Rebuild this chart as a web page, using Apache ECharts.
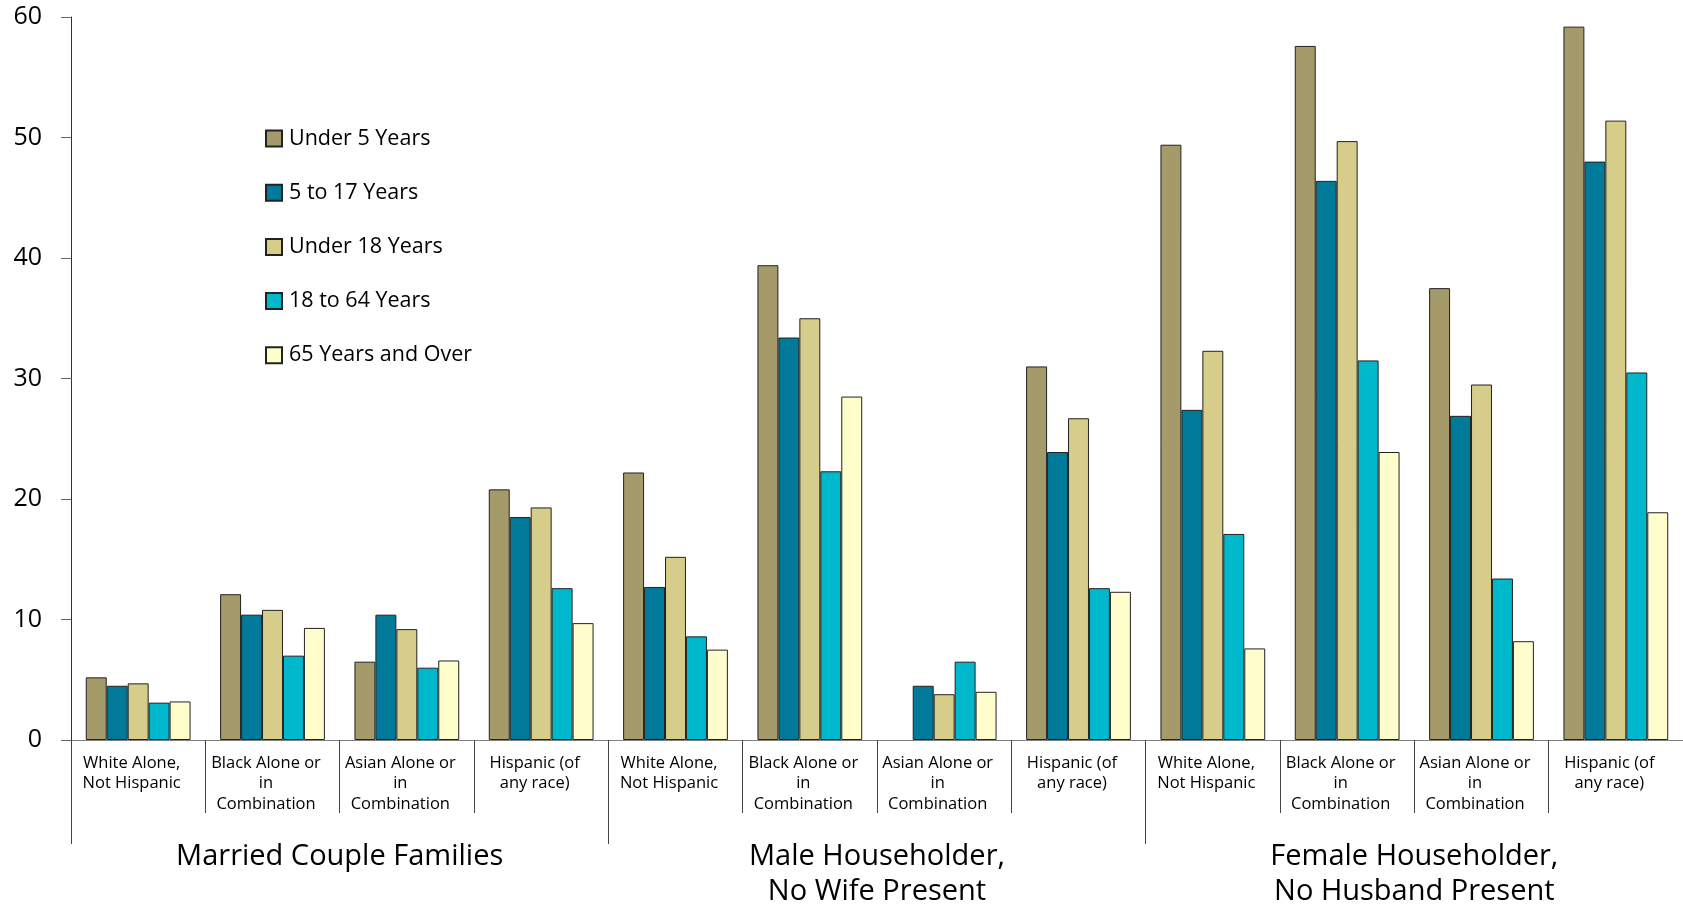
<!DOCTYPE html>
<html>
<head>
<meta charset="utf-8">
<script src="https://cdn.jsdelivr.net/npm/echarts@6/dist/echarts.min.js"></script>
<style>
html,body{margin:0;padding:0;background:#fff;}
#chart{width:1683px;height:909px;}
</style>
</head>
<body>
<div id="chart"></div>
<script>
var categories = [
  "White Alone,\nNot Hispanic", "Black Alone or\nin\nCombination", "Asian Alone or\nin\nCombination", "Hispanic (of\nany race)",
  "White Alone,\nNot Hispanic", "Black Alone or\nin\nCombination", "Asian Alone or\nin\nCombination", "Hispanic (of\nany race)",
  "White Alone,\nNot Hispanic", "Black Alone or\nin\nCombination", "Asian Alone or\nin\nCombination", "Hispanic (of\nany race)"
];
var groups = ["Married Couple Families", "Male Householder,\nNo Wife Present", "Female Householder,\nNo Husband Present"];
var seriesNames = ["Under 5 Years", "5 to 17 Years", "Under 18 Years", "18 to 64 Years", "65 Years and Over"];
var under5    = [5.2, 12.1, 6.5, 20.8, 22.2, 39.4, null, 31.0, 49.4, 57.6, 37.5, 59.2];
var age5to17  = [4.5, 10.4, 10.4, 18.5, 12.7, 33.4, 4.5, 23.9, 27.4, 46.4, 26.9, 48.0];
var under18   = [4.7, 10.8, 9.2, 19.3, 15.2, 35.0, 3.8, 26.7, 32.3, 49.7, 29.5, 51.4];
var age18to64 = [3.1, 7.0, 6.0, 12.6, 8.6, 22.3, 6.5, 12.6, 17.1, 31.5, 13.4, 30.5];
var age65plus = [3.2, 9.3, 6.6, 9.7, 7.5, 28.5, 4.0, 12.3, 7.6, 23.9, 8.2, 18.9];
var colors = ["#a49a6a", "#007a98", "#d6cd8a", "#00b8cc", "#fffdcb"];

var FONT = "'Open Sans', 'Noto Sans', sans-serif";
var allData = [under5, age5to17, under18, age18to64, age65plus];
var series = seriesNames.map(function (name, i) {
  return {
    name: name,
    type: 'bar',
    xAxisIndex: 0,
    data: allData[i],
    barGap: '0%',
    barCategoryGap: '22%',
    itemStyle: { color: colors[i], borderColor: '#222', borderWidth: 1 }
  };
});

var chart = echarts.init(document.getElementById('chart'), null, { renderer: 'canvas' });
chart.setOption({
  animation: false,
  textStyle: { fontFamily: FONT },
  color: colors,
  grid: { left: 71, right: 0, top: 17, bottom: 166, containLabel: false },
  legend: {
    orient: 'vertical',
    left: 265,
    top: 127.5,
    padding: 0,
    itemWidth: 16,
    itemHeight: 16,
    itemGap: 32.2,
    icon: 'rect',
    textStyle: { fontFamily: FONT, fontSize: 21.5, color: '#000', padding: [0, 0, 0, 2] },
    data: seriesNames
  },
  xAxis: [
    {
      type: 'category',
      position: 'bottom',
      data: categories,
      axisLine: { show: true, lineStyle: { color: '#808080', width: 1 } },
      axisTick: { show: true, length: 73, lineStyle: { color: '#444', width: 1 } },
      axisLabel: { interval: 0, margin: 13, fontFamily: FONT, fontSize: 16.5, lineHeight: 20.5, color: '#000', align: 'center', padding: [0, 13, 0, 0] }
    },
    {
      type: 'category',
      position: 'bottom',
      data: groups,
      axisLine: { show: false },
      axisTick: { show: true, length: 104, lineStyle: { color: '#444', width: 1 } },
      axisLabel: { interval: 0, margin: 99, fontFamily: FONT, fontSize: 29, lineHeight: 35, color: '#000', align: 'center' }
    }
  ],
  yAxis: {
    type: 'value',
    min: 0,
    max: 60,
    interval: 10,
    splitLine: { show: false },
    axisLine: { show: true, lineStyle: { color: '#333', width: 1 } },
    axisTick: { show: true, length: 10, lineStyle: { color: '#666' } },
    axisLabel: { margin: 29, fontFamily: FONT, fontSize: 25, color: '#000' }
  },
  series: series
});
</script>
</body>
</html>
